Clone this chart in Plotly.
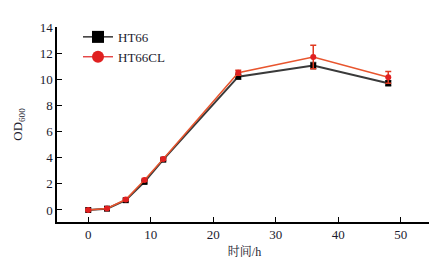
import plotly.graph_objects as go

time_h = [0, 3, 6, 9, 12, 24, 36, 48]
ht66 = [0.0, 0.1, 0.75, 2.15, 3.85, 10.2, 11.05, 9.7]
ht66_err = [0.05, 0.05, 0.08, 0.1, 0.1, 0.2, 0.25, 0.2]
ht66cl = [0.0, 0.12, 0.8, 2.3, 3.9, 10.5, 11.7, 10.15]
ht66cl_err = [0.05, 0.05, 0.08, 0.1, 0.1, 0.2, 0.9, 0.45]

fig = go.Figure()
fig.add_trace(go.Scatter(
    x=time_h, y=ht66, name="HT66", mode="lines+markers", showlegend=False,
    line=dict(color="#3a3a3a", width=2),
    marker=dict(symbol="square", color="black", size=6),
    error_y=dict(type="data", array=ht66_err, color="#555555", thickness=1.2, width=3),
))
fig.add_trace(go.Scatter(
    x=time_h, y=ht66cl, name="HT66CL", mode="lines+markers", showlegend=False,
    line=dict(color="#e8552e", width=1.5),
    marker=dict(symbol="circle", color="#e02020", size=6),
    error_y=dict(type="data", array=ht66cl_err, color="#e03a20", thickness=1.5, width=3),
))
# legend entries (larger symbols, thin lines, as in the reference key)
fig.add_trace(go.Scatter(
    x=[None], y=[None], name="HT66", mode="lines+markers",
    line=dict(color="black", width=1.2),
    marker=dict(symbol="square", color="black", size=12),
))
fig.add_trace(go.Scatter(
    x=[None], y=[None], name="HT66CL", mode="lines+markers",
    line=dict(color="#e02020", width=1.2),
    marker=dict(symbol="circle", color="#e02020", size=12),
))

font_fam = "Liberation Serif, Noto Serif CJK SC, Noto Sans CJK SC, serif"
# page body has an 8px margin, so the figure is 8px smaller and shifted
fig.update_layout(
    width=429, height=253,
    margin=dict(l=49, r=5, t=19, b=39),
    paper_bgcolor="white", plot_bgcolor="white",
    font=dict(family=font_fam, size=13, color="#1a1a2e"),
    showlegend=True,
    legend=dict(x=0.056, y=1.026, xanchor="left", yanchor="top",
                bgcolor="rgba(0,0,0,0)", font=dict(size=13),
                itemwidth=30, tracegroupgap=0),
    xaxis=dict(range=[-5, 55], tickvals=[0, 10, 20, 30, 40, 50],
               showline=True, linecolor="black", linewidth=1.5,
               ticks="inside", ticklen=5, tickcolor="black",
               showgrid=False, zeroline=False, automargin=False,
               title=dict(text="时间/h", font=dict(size=12), standoff=6)),
    yaxis=dict(range=[-0.92, 14], tickvals=[0, 2, 4, 6, 8, 10, 12, 14],
               showline=True, linecolor="black", linewidth=1.5,
               ticks="inside", ticklen=5, tickcolor="black",
               showgrid=False, zeroline=False, automargin=False,
               title=dict(text="OD<sub>600</sub>", font=dict(size=13), standoff=14)),
)
fig.write_html("out.html")
